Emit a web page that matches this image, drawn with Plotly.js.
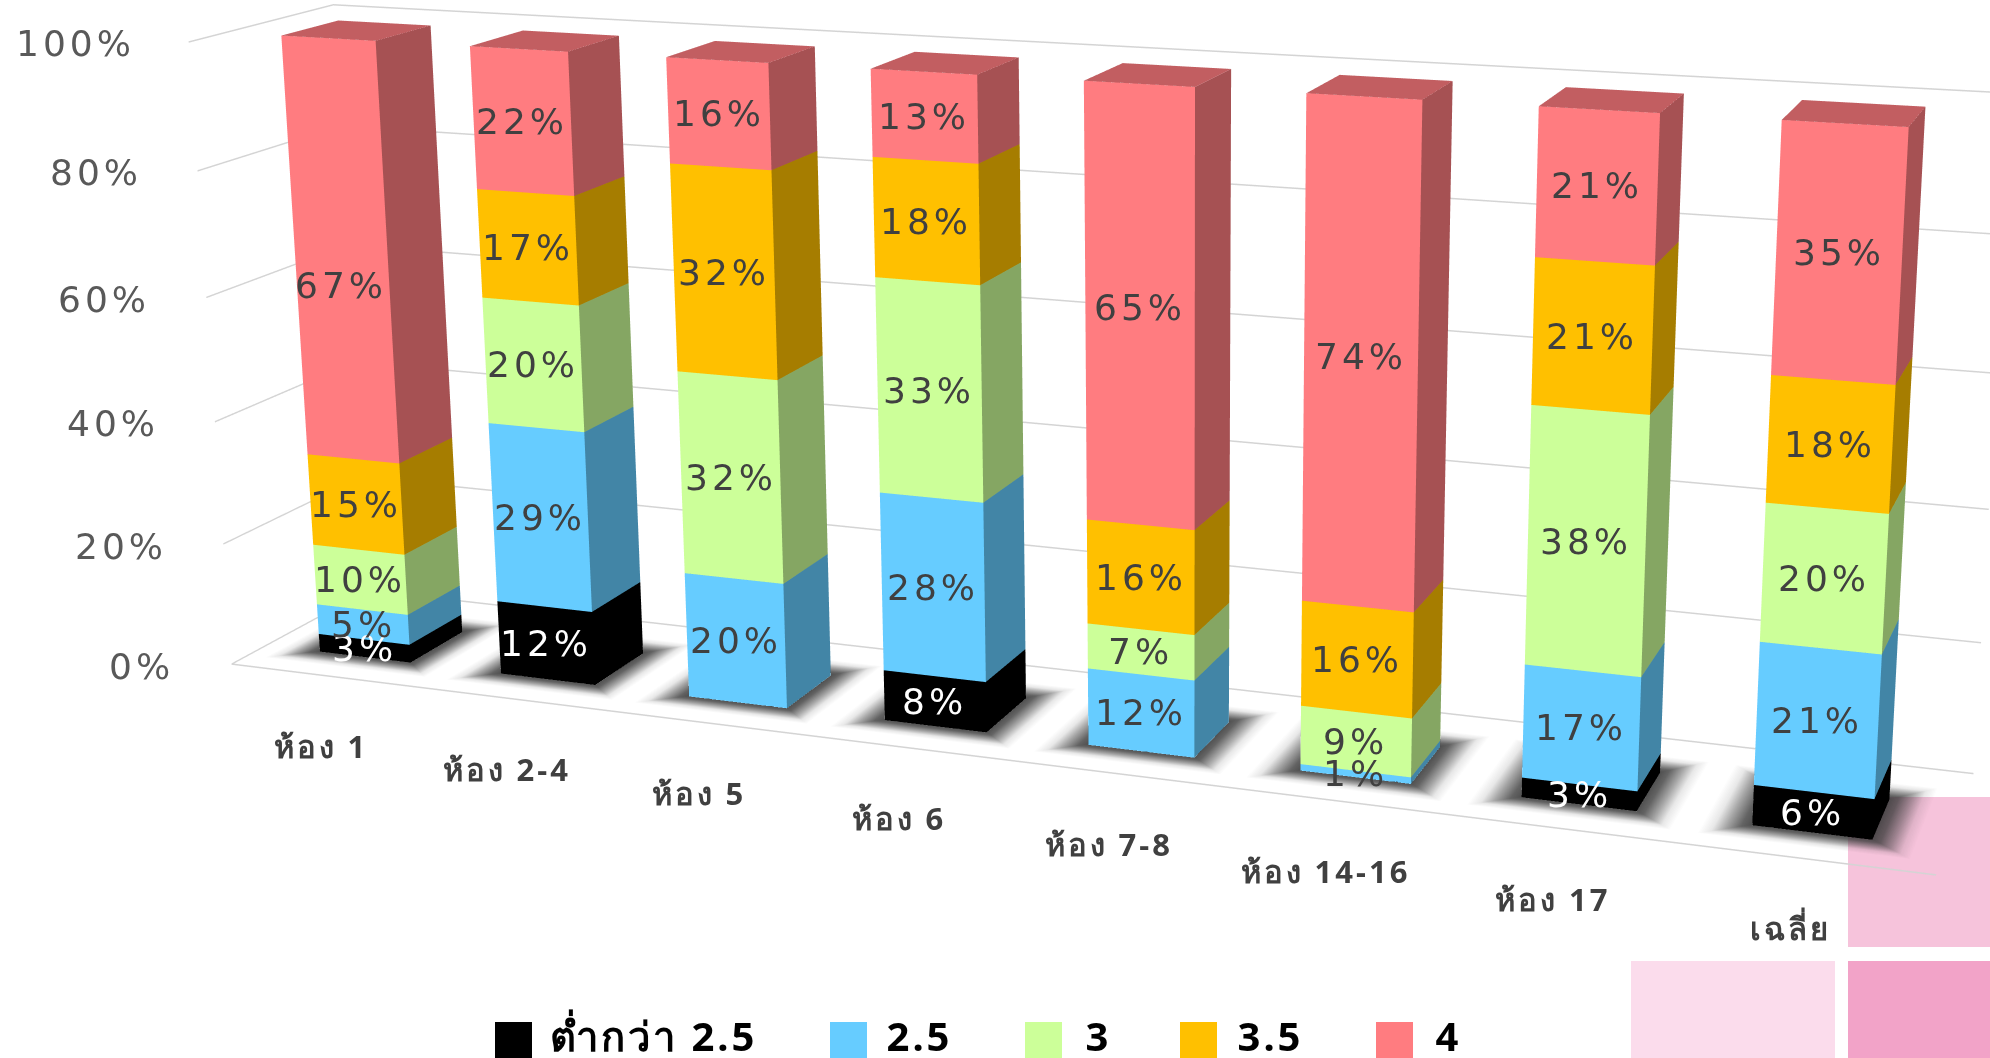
<!DOCTYPE html>
<html><head><meta charset="utf-8">
<script src="https://cdn.plot.ly/plotly-3.0.1.min.js"></script>
<style>html,body{margin:0;padding:0;width:1990px;height:1058px;overflow:hidden;background:#fff}
#chart{position:absolute;left:13px;top:-1106px;width:2221px;height:2971px}
#chart .annotation-text{letter-spacing:4px}
#chart .annotation-text tspan[style*="bold"]{letter-spacing:3px}</style>
</head><body><div id="chart"></div>
<script>
const categories = ['ห้อง 1','ห้อง 2-4','ห้อง 5','ห้อง 6','ห้อง 7-8','ห้อง 14-16','ห้อง 17','เฉลี่ย'];
const seriesNames = ['ต่ำกว่า 2.5','2.5','3','3.5','4'];
const below25 = [3,12,0,8,0,0,3,6];
const grade25 = [5,29,20,28,12,1,17,21];
const grade3  = [10,20,32,33,7,9,38,20];
const grade35 = [15,17,32,18,16,16,21,18];
const grade4  = [67,22,16,13,65,74,21,35];
const yTicks  = [0,20,40,60,80,100];
const seriesValues = [below25,grade25,grade3,grade35,grade4];
const seriesColors = [[0,0,0],[102,204,255],[204,255,153],[255,192,0],[255,124,128]];

const LEFT=13,W=2221,H=2971,TOP=-1106;
const px=x=>(x-LEFT)/W, py=y=>1-(y-TOP)/H;
const shade=(c,f)=>`rgb(${c.map(v=>Math.round(v*f)).join(',')})`;
const halfW=.2525, depth=.49, xPad=.555, yMin=-.3, yMax=.93;
const FONT='"DejaVu Sans"';

const traces=[];
// soft floor shadows, several rings fading outward
(function(){
  const x=[],y=[],z=[],vc=[],I=[],J=[],K=[];
  const rings=[[0,.9],[.2,.8],[.5,.45],[.75,.12],[1,0]];
  categories.forEach((_,c)=>{
    const b=x.length;
    rings.forEach(r=>{const t=r[0],xl=c-halfW-t*.2,xr=c+halfW+t*.18,yf=-t*.17,yb=depth+t*.2;
      [[xl,yf],[xr,yf],[xr,yb],[xl,yb]].forEach(p=>{
        x.push(p[0]);y.push(p[1]);z.push(.1);vc.push(`rgba(60,60,60,${r[1]})`);});
    });
    I.push(b,b);J.push(b+1,b+2);K.push(b+2,b+3);
    for(let q=0;q<rings.length-1;q++)for(let n=0;n<4;n++){
      const a=b+q*4+n,d=b+q*4+(n+1)%4,e=a+4,f=d+4;I.push(a,d);J.push(e,e);K.push(d,f);}
  });
  traces.push({type:'mesh3d',x,y,z,i:I,j:J,k:K,vertexcolor:vc,hoverinfo:'skip',showscale:false,
    lighting:{ambient:1,diffuse:0,specular:0,fresnel:0,roughness:1}});
})();
// stacked bars
const annotations=[];
const base=categories.map(()=>0);
seriesValues.forEach((vals,s)=>{
  const x=[],y=[],z=[],I=[],J=[],K=[],fc=[];const col=seriesColors[s];
  const quad=(a,b,c,d,color)=>{const n=x.length;[a,b,c,d].forEach(p=>{x.push(p[0]);y.push(p[1]);z.push(p[2]);});
    I.push(n,n);J.push(n+1,n+2);K.push(n+2,n+3);fc.push(color,color);};
  vals.forEach((v,c)=>{
    if(!v)return;
    const z0=base[c],z1=z0+v,l=c-halfW,r=c+halfW;
    quad([l,0,z0],[r,0,z0],[r,0,z1],[l,0,z1],shade(col,1));
    quad([r,0,z0],[r,depth,z0],[r,depth,z1],[r,0,z1],shade(col,.65));
    quad([l,0,z1],[r,0,z1],[r,depth,z1],[l,depth,z1],shade(col,.76));
    const nudge=(c===0&&s===4)?-34:0;
    annotations.push({x:c,y:0,z:(z0+z1)/2,text:v+'%',showarrow:false,yshift:nudge,
      font:{family:FONT,size:36,color:s===0?'#ffffff':'#404040'}});
    base[c]=z1;
  });
  traces.push({type:'mesh3d',name:seriesNames[s],x,y,z,i:I,j:J,k:K,facecolor:fc,hoverinfo:'skip',showscale:false,
    flatshading:true,lighting:{ambient:1,diffuse:0,specular:0,fresnel:0,roughness:1}});
});
// front floor edge
traces.push({type:'scatter3d',mode:'lines',x:[-xPad,7+xPad],y:[yMin,yMin],z:[0,0],line:{color:'#d4d4d4',width:3},hoverinfo:'skip',showlegend:false});

yTicks.forEach(t=>annotations.push({x:-xPad,y:yMin,z:t,text:t+'%',showarrow:false,xanchor:'right',xshift:-60,yshift:-2,
  font:{family:FONT,size:36,color:'#595959'}}));
categories.forEach((c,i)=>annotations.push({x:i,y:yMin,z:0,text:'<b>'+c+'</b>',showarrow:false,yshift:-70,xshift:-10,
  font:{family:'"Noto Sans","DejaVu Sans"',size:31,color:'#404040'}}));

const plain={showgrid:false,zeroline:false,showline:false,showticklabels:false,ticks:'',showbackground:false,showspikes:false,title:{text:''}};
const layout={width:W,height:H,margin:{l:0,r:0,t:0,b:0},paper_bgcolor:'rgba(0,0,0,0)',showlegend:false,
  scene:{domain:{x:[0,1],y:[0,1]},dragmode:false,bgcolor:'rgba(0,0,0,0)',aspectmode:'manual',aspectratio:{x:2.012,y:.3075,z:.7515},
    camera:{eye:{x:1.3875,y:-3.629,z:1.0136},center:{x:.065,y:.032,z:.02},up:{x:.0038,y:.0013,z:1},projection:{type:'perspective'}},
    xaxis:Object.assign({},plain,{range:[-xPad,7+xPad]}),
    yaxis:Object.assign({},plain,{range:[yMin,yMax]}),
    zaxis:Object.assign({},plain,{range:[0,100],showgrid:true,gridcolor:'#d4d4d4',gridwidth:3,tickvals:yTicks}),
    annotations},
  shapes:[],annotations:[]};
// decorative squares behind chart
[[1848,797,1990,947,'#f6c3db'],[1631,961,1835,1058,'#fbdcec'],[1848,961,1990,1058,'#f2a3c8']].forEach(r=>
  layout.shapes.push({type:'rect',xref:'paper',yref:'paper',x0:px(r[0]),x1:px(r[2]),y0:py(r[1]),y1:py(r[3]),fillcolor:r[4],line:{width:0},layer:'below'}));
// legend
const legSw=[495,830,1025,1180,1376], legTx=[560,889,1085,1240,1435];
seriesNames.forEach((n,i)=>{
  layout.shapes.push({type:'rect',xref:'paper',yref:'paper',x0:px(legSw[i]),x1:px(legSw[i]+37),y0:py(1022),y1:py(1058),
    fillcolor:'rgb('+seriesColors[i].join(',')+')',line:{width:0}});
  layout.annotations.push({xref:'paper',yref:'paper',x:px(legTx[i]),y:py(1035),xanchor:'left',yanchor:'middle',showarrow:false,
    text:'<b>'+n+'</b>',font:{family:'"Noto Sans","DejaVu Sans"',size:40,color:'#000'}});
});
Plotly.newPlot('chart',traces,layout,{displayModeBar:false,responsive:false});
</script></body></html>
